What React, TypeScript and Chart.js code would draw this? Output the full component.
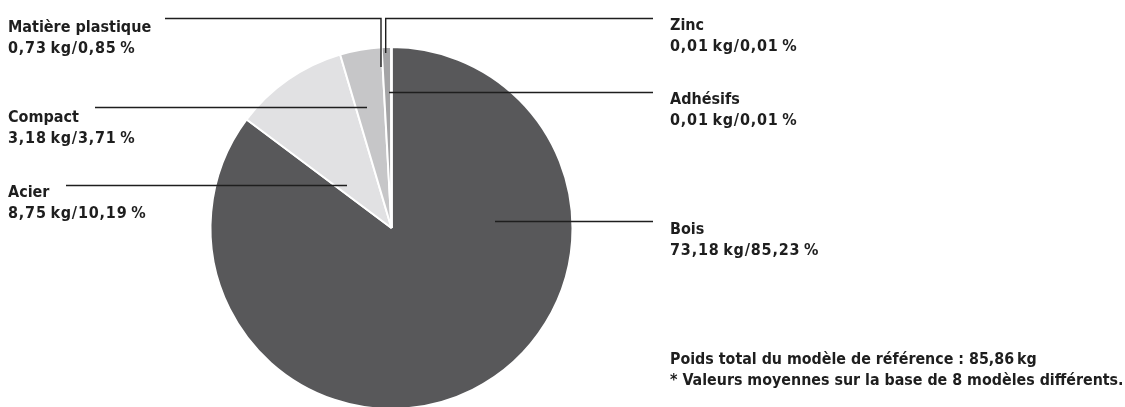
import React, { useEffect, useRef } from "react";
import { Chart, registerables } from "chart.js";

Chart.register(...registerables);

// Data (clockwise from top)
const categories = ["Bois", "Acier", "Compact", "Matière plastique", "Zinc", "Adhésifs"];
const weightsKg = ["73,18", "8,75", "3,18", "0,73", "0,01", "0,01"];
const percentLabels = ["85,23", "10,19", "3,71", "0,85", "0,01", "0,01"];
const percentValues = [85.23, 10.19, 3.71, 0.85, 0.01, 0.01];
const sliceColors = ["#58585a", "#e1e1e3", "#c6c6c8", "#a4a4a6", "#d4d4d6", "#d4d4d6"];

const totalLine = "Poids total du modèle de référence : 85,86\u202Fkg";
const noteLine = "* Valeurs moyennes sur la base de 8 modèles différents.";

// Label layout (annotation positions)
const labelBoxes: Record<string, { left: number; top: number }> = {
  "Matière plastique": { left: 8, top: 15.5 },
  Compact: { left: 8, top: 105.5 },
  Acier: { left: 8, top: 180.5 },
  Zinc: { left: 670, top: 13.5 },
  "Adhésifs": { left: 670, top: 87.5 },
  Bois: { left: 670, top: 217.5 },
};

// Leader lines (polyline points)
const leaderLines: number[][][] = [
  [[165, 18.5], [381, 18.5], [381, 67]],
  [[653, 18.5], [385.7, 18.5], [385.7, 53]],
  [[389, 92.5], [653, 92.5]],
  [[95, 107.5], [367, 107.5]],
  [[66, 185.5], [347, 185.5]],
  [[495, 221.5], [653, 221.5]],
];

const FONT = '"DejaVu Sans Condensed", "Liberation Sans Narrow", sans-serif';

const leaderPlugin = {
  id: "leaders",
  afterDatasetsDraw(chart: any) {
    const ctx = chart.ctx;
    ctx.save();
    ctx.strokeStyle = "#1e1e1e";
    ctx.lineWidth = 1.4;
    for (const line of leaderLines) {
      ctx.beginPath();
      line.forEach((p, i) => (i === 0 ? ctx.moveTo(p[0], p[1]) : ctx.lineTo(p[0], p[1])));
      ctx.stroke();
    }
    ctx.restore();
  },
};

export default function App() {
  const ref = useRef<HTMLCanvasElement>(null);
  useEffect(() => {
    document.body.style.margin = "0";
    const chart = new Chart(ref.current!, {
      type: "pie",
      data: {
        labels: categories,
        datasets: [
          {
            data: percentValues,
            backgroundColor: sliceColors,
            borderColor: "#ffffff",
            borderWidth: 2,
          },
        ],
      },
      options: {
        responsive: true,
        maintainAspectRatio: false,
        animation: false,
        layout: { padding: { left: 209.5, right: 551.5, top: 46, bottom: 10 } },
        plugins: { legend: { display: false }, tooltip: { enabled: false } },
      },
      plugins: [leaderPlugin],
    });
    return () => chart.destroy();
  }, []);

  const textStyle: React.CSSProperties = {
    position: "absolute",
    fontFamily: FONT,
    fontWeight: 700,
    fontSize: 16,
    lineHeight: "21px",
    color: "#1e1e1e",
    whiteSpace: "nowrap",
  };

  return (
    <div style={{ position: "fixed", left: 0, top: 0, width: 1125, height: 407, overflow: "hidden", background: "#fff" }}>
      <div style={{ position: "absolute", left: 0, top: 0, width: 1125, height: 420 }}>
        <canvas ref={ref} />
      </div>
      {categories.map((c, i) => (
        <div key={c} style={{ ...textStyle, left: labelBoxes[c].left, top: labelBoxes[c].top }}>
          {c}
          <br />
          <span style={{ letterSpacing: "0.8px" }}>
            {weightsKg[i]}
            {"\u202Fkg/"}
            {percentLabels[i]}
            {"\u202F%"}
          </span>
        </div>
      ))}
      <div style={{ ...textStyle, left: 670, top: 348, fontSize: 15.85 }}>
        {totalLine}
        <br />
        {noteLine}
      </div>
    </div>
  );
}
